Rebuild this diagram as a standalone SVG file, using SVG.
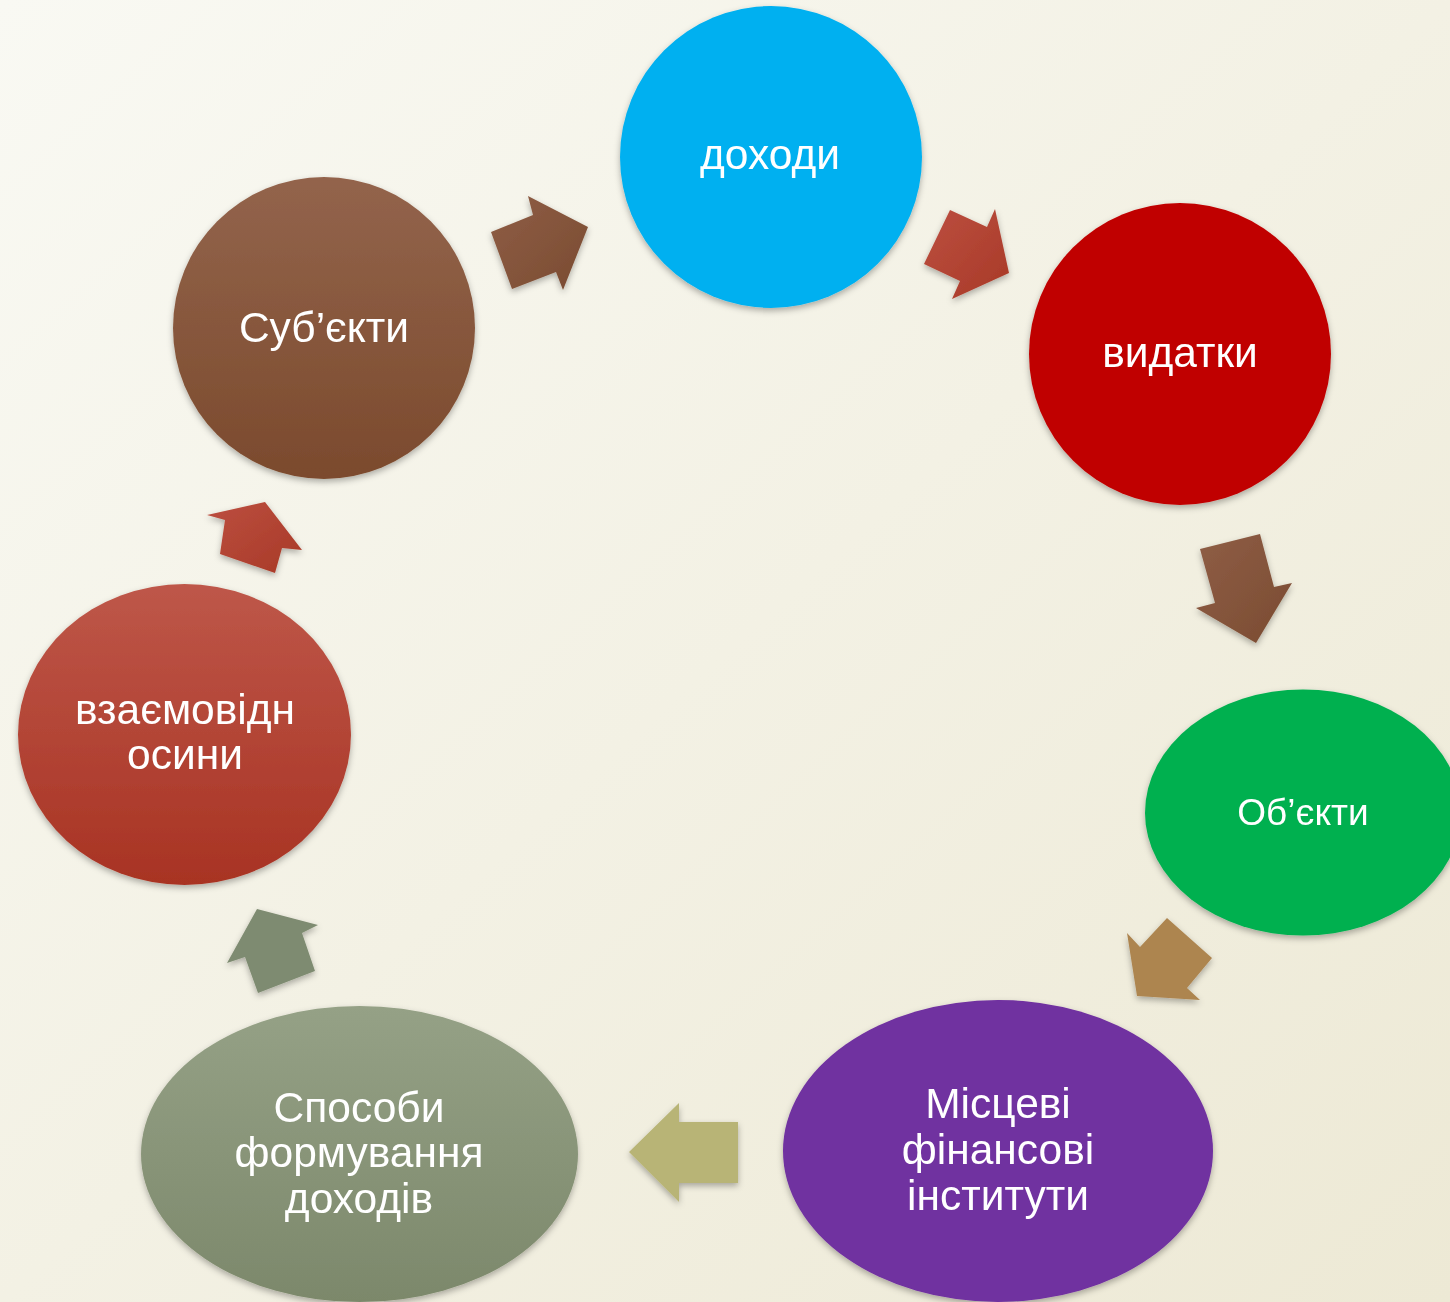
<svg xmlns="http://www.w3.org/2000/svg" width="1450" height="1302" viewBox="0 0 1450 1302">
<defs>
<linearGradient id="bg" x1="0" y1="0" x2="1" y2="1">
<stop offset="0" stop-color="#F9F9F3"/>
<stop offset="1" stop-color="#EDE9D5"/>
</linearGradient>
<linearGradient id="gBrown" x1="0" y1="0" x2="0" y2="1">
<stop offset="0" stop-color="#93644C"/>
<stop offset="1" stop-color="#7B4A2D"/>
</linearGradient>
<linearGradient id="gRed" x1="0" y1="0" x2="0" y2="1">
<stop offset="0" stop-color="#BE5749"/>
<stop offset="1" stop-color="#A83323"/>
</linearGradient>
<linearGradient id="gGreen" x1="0" y1="0" x2="0" y2="1">
<stop offset="0" stop-color="#95A186"/>
<stop offset="1" stop-color="#7C886B"/>
</linearGradient>
<linearGradient id="aBrown" x1="0" y1="0" x2="1" y2="1">
<stop offset="0" stop-color="#8F5E46"/>
<stop offset="1" stop-color="#7A4B31"/>
</linearGradient>
<linearGradient id="aRed" x1="0" y1="0" x2="1" y2="1">
<stop offset="0" stop-color="#BC4E40"/>
<stop offset="1" stop-color="#A83A27"/>
</linearGradient>
<filter id="sh" x="-20%" y="-20%" width="140%" height="140%">
<feDropShadow dx="0" dy="3" stdDeviation="3" flood-color="#000" flood-opacity="0.3"/>
</filter>
<style>
.t{font-family:"Liberation Sans",Arial,sans-serif;font-size:42.5px;fill:#FFFFFF;text-anchor:middle}
.s{font-size:37px}
</style>
</defs>
<rect width="1450" height="1302" fill="url(#bg)"/>
<g id="connectors" filter="url(#sh)">
<polygon fill="url(#aBrown)" points="491,232 533,215 528,196 588,227 563,290 556,272 512,289"/>
<polygon fill="url(#aRed)" points="950,210 987,227 995,209 1009,273 952,299 960,281 924,264"/>
<polygon fill="url(#aBrown)" points="1200,549 1260,534 1274,587 1292,583 1256,643 1196,608 1215,603"/>
<polygon fill="#AD8550" points="1167,918 1212,958 1187,988 1200,1000 1137,996 1127,933 1140,947"/>
<polygon fill="#B8B476" points="738,1122 738,1183 679,1183 679,1202 629,1152 679,1103 679,1122"/>
<polygon fill="#7E8B71" points="315,971 258,993 245,957 227,963 257,909 318,925 302,933"/>
<polygon fill="url(#aRed)" points="220,554 275,573 282,548 302,550 265,502 207,515 225,520"/>
</g>
<g id="n-dohody" filter="url(#sh)">
<circle cx="771" cy="157" r="151" fill="#00B0F0"/>
<text class="t" x="770" y="169">доходи</text>
</g>
<g id="n-vydatky" filter="url(#sh)">
<circle cx="1180" cy="354" r="151" fill="#C00000"/>
<text class="t" x="1180" y="367">видатки</text>
</g>
<g id="n-obiekty" filter="url(#sh)">
<ellipse cx="1303" cy="812.5" rx="158" ry="123" fill="#00B050"/>
<text class="t s" x="1303" y="825">Об’єкти</text>
</g>
<g id="n-instytuty" filter="url(#sh)">
<ellipse cx="998" cy="1151" rx="215" ry="151" fill="#7030A0"/>
<text class="t" x="998" y="1118">Місцеві</text>
<text class="t" x="998" y="1164">фінансові</text>
<text class="t" x="998" y="1210">інститути</text>
</g>
<g id="n-sposoby" filter="url(#sh)">
<ellipse cx="359.5" cy="1154" rx="218.5" ry="148" fill="url(#gGreen)"/>
<text class="t" x="359" y="1122">Способи</text>
<text class="t" x="359" y="1167">формування</text>
<text class="t" x="359" y="1213">доходів</text>
</g>
<g id="n-vzaiemo" filter="url(#sh)">
<ellipse cx="184.5" cy="734.5" rx="166.5" ry="150.5" fill="url(#gRed)"/>
<text class="t" x="185" y="724">взаємовідн</text>
<text class="t" x="185" y="769">осини</text>
</g>
<g id="n-subiekty" filter="url(#sh)">
<circle cx="324" cy="328" r="151" fill="url(#gBrown)"/>
<text class="t" x="324" y="342">Суб’єкти</text>
</g>
</svg>
